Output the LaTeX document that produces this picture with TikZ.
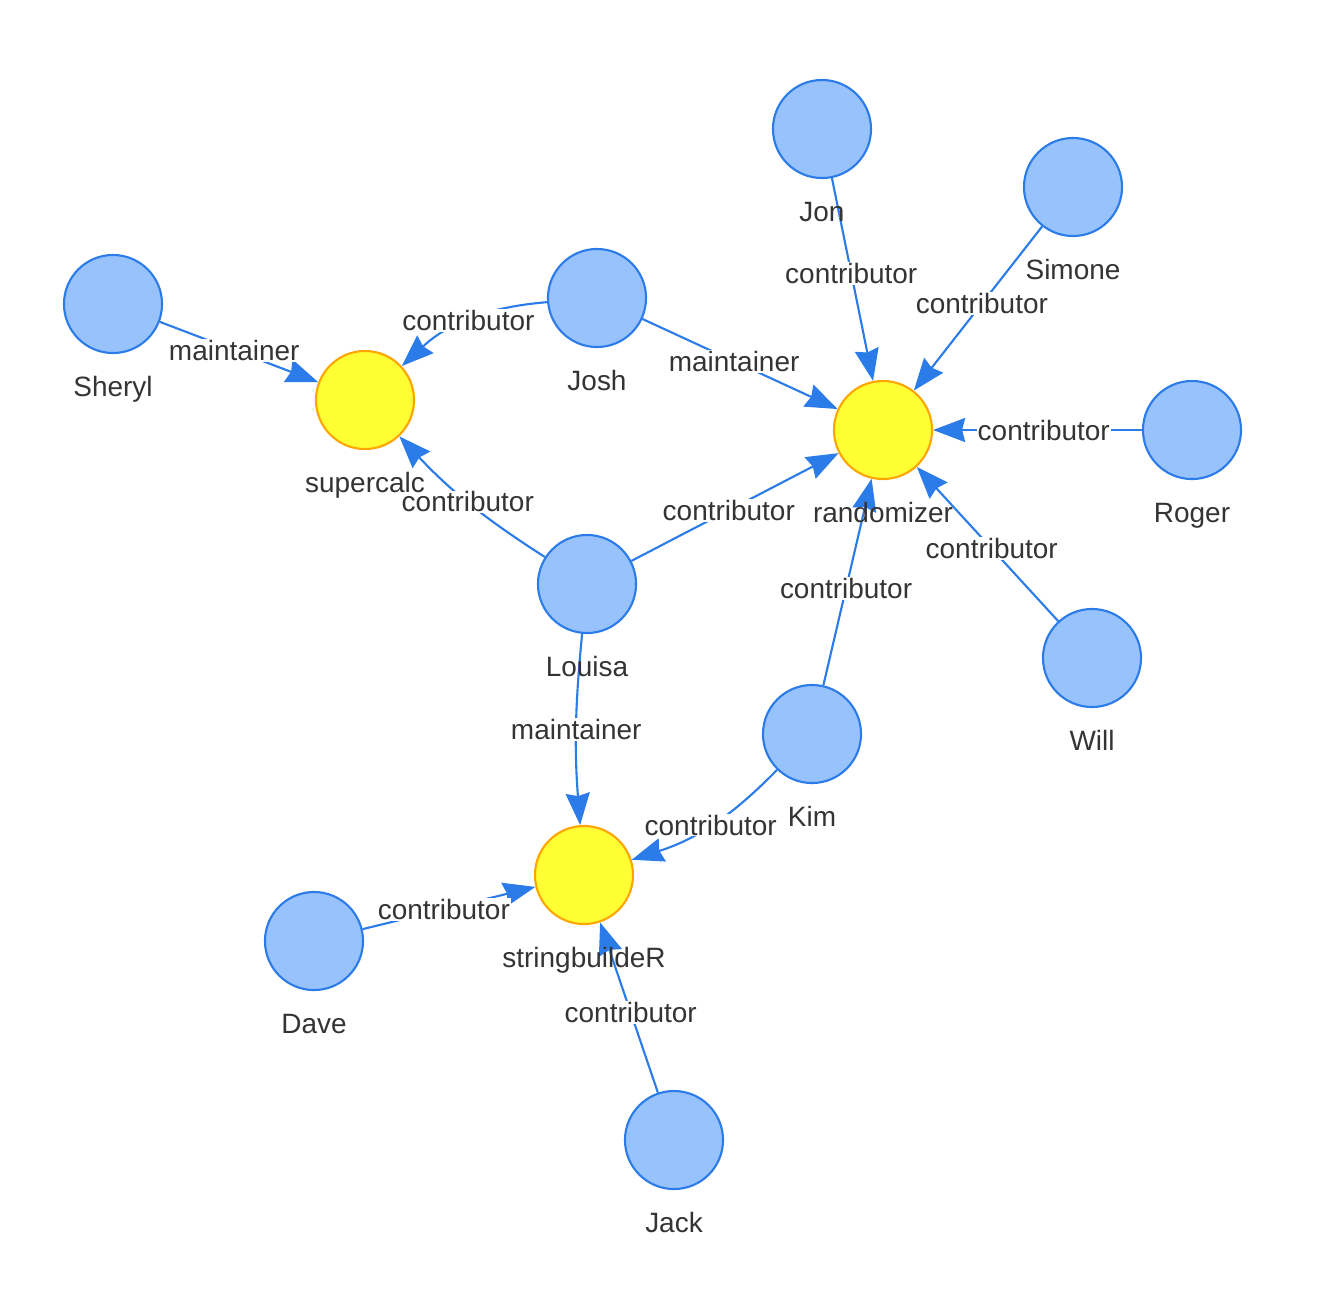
\documentclass[tikz,border=0pt]{standalone}
\usepackage{fontspec}
\setmainfont{Liberation Sans}
\usetikzlibrary{arrows.meta,backgrounds}
\definecolor{nodeblue}{HTML}{97C2FC}
\definecolor{edgeblue}{HTML}{2B7CE9}
\definecolor{projyellow}{HTML}{FFFF33}
\definecolor{projorange}{HTML}{FFA500}
\definecolor{txtgray}{HTML}{343434}
\newcommand{\lblfont}{\fontsize{7.95}{9.5}\selectfont}
\tikzset{
  person/.style  = {circle,fill=nodeblue,draw=edgeblue,line width=0.6pt,minimum size=0.98cm,inner sep=0pt},
  project/.style = {circle,fill=projyellow,draw=projorange,line width=0.6pt,minimum size=0.98cm,inner sep=0pt},
  relarr/.style  = {-{Stealth[length=3.2mm,width=2.4mm,inset=0.3mm]},edgeblue,line width=0.6pt},
  rellbl/.style  = {pos=0.47,fill=white,inner sep=0.3pt,text=txtgray,font=\lblfont},
  every label/.style = {text=txtgray,font=\lblfont,inner sep=0pt,text height=0.2cm,text depth=0.05cm},
  label distance=0.22cm
}

\begin{document}
\begin{tikzpicture}[x=0.01cm,y=-0.01cm]
  \useasboundingbox (0,0) rectangle (1330,1308);
  \node[project,label=below:supercalc]     (supercalc)  at (365,400)  {};
  \node[project,label=below:randomizer]    (randomizer) at (883,430)  {};
  \node[project,label=below:stringbuildeR] (stringb)    at (584,875)  {};
  \node[person,label=below:Sheryl] (sheryl) at (113,304)  {};
  \node[person,label=below:Josh]   (josh)   at (597,298)  {};
  \node[person,label=below:Jon]    (jon)    at (822,129)  {};
  \node[person,label=below:Simone] (simone) at (1073,187) {};
  \node[person,label=below:Roger]  (roger)  at (1192,430) {};
  \node[person,label=below:Louisa] (louisa) at (587,584)  {};
  \node[person,label=below:Will]   (will)   at (1092,658) {};
  \node[person,label=below:Kim]    (kim)    at (812,734)  {};
  \node[person,label=below:Dave]   (dave)   at (314,941)  {};
  \node[person,label=below:Jack]   (jack)   at (674,1140) {};
  \begin{scope}[on background layer]
    \fill[white] (0,0) rectangle (1330,1308);
    \draw[relarr] (sheryl) -- node[rellbl]{maintainer} (supercalc);
    \draw[relarr] (josh) to[bend right=19] node[rellbl,midway]{contributor} (supercalc);
    \draw[relarr] (louisa) to[bend left=7] node[rellbl,midway]{contributor} (supercalc);
    \draw[relarr] (josh) -- node[rellbl]{maintainer} (randomizer);
    \draw[relarr] (louisa) -- node[rellbl]{contributor} (randomizer);
    \draw[relarr] (jon) -- node[rellbl]{contributor} (randomizer);
    \draw[relarr] (simone) -- node[rellbl]{contributor} (randomizer);
    \draw[relarr] (roger) -- node[rellbl]{contributor} (randomizer);
    \draw[relarr] (will) -- node[rellbl]{contributor} (randomizer);
    \draw[relarr] (kim) -- node[rellbl]{contributor} (randomizer);
    \draw[relarr] (louisa) to[bend right=5] node[rellbl,midway]{maintainer} (stringb);
    \draw[relarr] (kim) to[bend left=14] node[rellbl,midway]{contributor} (stringb);
    \draw[relarr] (dave) -- node[rellbl]{contributor} (stringb);
    \draw[relarr] (jack) -- node[rellbl]{contributor} (stringb);
  \end{scope}
\end{tikzpicture}
\end{document}
